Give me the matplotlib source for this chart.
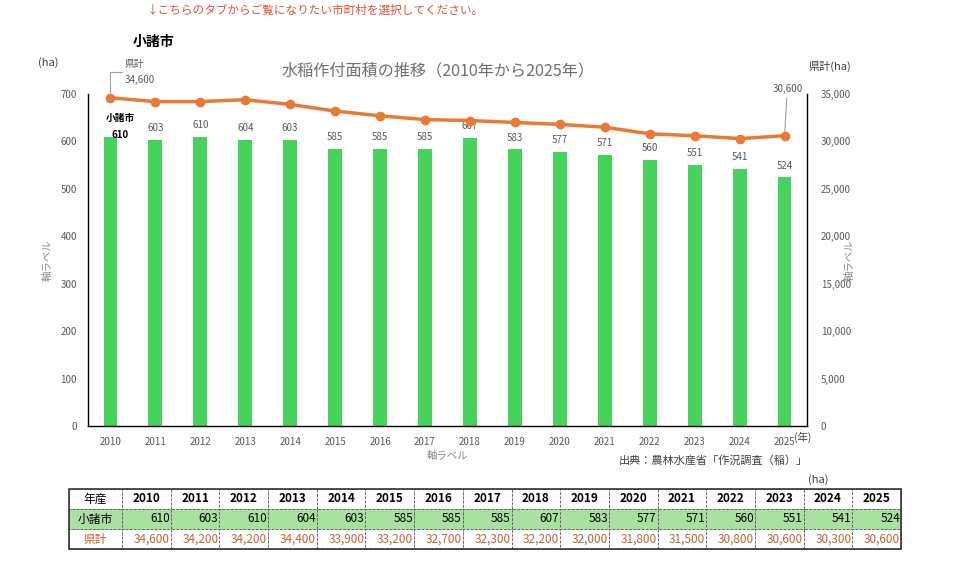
import matplotlib
matplotlib.use("Agg")
import matplotlib.pyplot as plt
import numpy as np

plt.rcParams['font.family'] = ['Noto Sans CJK JP', 'DejaVu Sans']

years = [2010, 2011, 2012, 2013, 2014, 2015, 2016, 2017, 2018, 2019, 2020, 2021, 2022, 2023, 2024, 2025]
city_values = [610, 603, 610, 604, 603, 585, 585, 585, 607, 583, 577, 571, 560, 551, 541, 524]
pref_values = [34600, 34200, 34200, 34400, 33900, 33200, 32700, 32300, 32200, 32000, 31800, 31500, 30800, 30600, 30300, 30600]
city_name = "小諸市"
pref_name = "県計"
title = "水稲作付面積の推移（2010年から2025年）"
notice = "↓こちらのタブからご覧になりたい市町村を選択してください。"
source = "出典：農林水産省「作況調査（稲）」"
left_ticks = [0, 100, 200, 300, 400, 500, 600, 700]
right_ticks = [0, 5000, 10000, 15000, 20000, 25000, 30000, 35000]

GREEN = "#47D35B"
ORANGE = "#E97A35"
GRAY = "#595959"
TABLE_GREEN = "#A9E2A0"
PREF_TXT = "#C0642A"

W, H = 960, 570
fig = plt.figure(figsize=(9.6, 5.7), dpi=100)

def fx(px):
    return px / W

def fy(py):
    return 1 - py / H

ax = fig.add_axes([fx(88), fy(426), fx(807) - fx(88), fy(94) - fy(426)])
x = np.arange(len(years))
ax.bar(x, city_values, width=0.31, color=GREEN, zorder=2)
ax.set_xlim(-0.5, len(years) - 0.5)
ax.set_ylim(0, 700)
ax.set_yticks(left_ticks)
ax.set_xticks(x)
ax.set_xticklabels([str(y) for y in years])
ax.tick_params(axis='both', length=0, labelsize=7, labelcolor=GRAY)
ax.tick_params(axis='x', pad=8)
ax.tick_params(axis='y', pad=8)
for s in ['top', 'right']:
    ax.spines[s].set_visible(False)
for s in ['left', 'bottom']:
    ax.spines[s].set_color('black')
    ax.spines[s].set_linewidth(1.0)

# bar labels
for i, v in enumerate(city_values):
    if i == 0:
        ax.annotate(f"{city_name}\n{v}", (x[i], v), xytext=(7, -2.5), textcoords='offset points',
                    ha='center', va='bottom', multialignment='center', fontsize=7,
                    fontweight='bold', color='black', linespacing=1.9)
    else:
        ax.annotate(f"{v}", (x[i], v), xytext=(0, 5), textcoords='offset points',
                    ha='center', va='bottom', fontsize=7, color=GRAY)

ax2 = ax.twinx()
ax2.plot(x, pref_values, color=ORANGE, linewidth=2.5, marker='o', markersize=6, zorder=3)
ax2.set_ylim(0, 35000)
ax2.set_yticks(right_ticks)
ax2.set_yticklabels([f"{t:,}" for t in right_ticks])
ax2.tick_params(axis='y', length=0, labelsize=7, labelcolor=GRAY, pad=10)
for s in ['top', 'left', 'bottom']:
    ax2.spines[s].set_visible(False)
ax2.spines['right'].set_color('black')
ax2.spines['right'].set_linewidth(1.0)

# line labels with leader lines
ax2.annotate(f"{pref_name}\n{pref_values[0]:,}", (x[0], pref_values[0]), xytext=(10, 9),
             textcoords='offset points', ha='left', va='bottom', fontsize=7, color=GRAY,
             linespacing=1.8,
             arrowprops=dict(arrowstyle='-', color='#A0A0A0', lw=0.8,
                             connectionstyle='angle,angleA=0,angleB=90,rad=0', shrinkA=0, shrinkB=3))
ax2.annotate(f"{pref_values[-1]:,}", (x[-1], pref_values[-1]), xytext=(2, 30),
             textcoords='offset points', ha='center', va='bottom', fontsize=7, color=GRAY,
             arrowprops=dict(arrowstyle='-', color='#A0A0A0', lw=0.8, shrinkA=1, shrinkB=3))

# texts
fig.text(fx(315), fy(10), notice, color="#E0503C", fontsize=8.4, ha='center', va='center')
fig.text(fx(154), fy(42), city_name, color='black', fontsize=10, fontweight='bold', ha='center', va='center')
fig.text(fx(48), fy(63), "(ha)", color='#404040', fontsize=8, ha='center', va='center')
fig.text(fx(438), fy(71), title, color='#707070', fontsize=11.6, ha='center', va='center')
fig.text(fx(830), fy(66), "県計(ha)", color='#404040', fontsize=8, ha='center', va='center')
fig.text(fx(48), fy(260), "軸ラベル", color='#8A8A8A', fontsize=7.5, rotation=90, ha='center', va='center')
fig.text(fx(850), fy(260), "軸ラベル", color='#8A8A8A', fontsize=7.5, rotation=90, ha='center', va='center')
fig.text(fx(447), fy(456), "軸ラベル", color='#8A8A8A', fontsize=7.5, ha='center', va='center')
fig.text(fx(803), fy(437), "(年)", color='#404040', fontsize=7.5, ha='center', va='center')
fig.text(fx(713), fy(460), source, color='#404040', fontsize=8, ha='center', va='center')
fig.text(fx(818), fy(480), "(ha)", color='#404040', fontsize=8, ha='center', va='center')

# table
tx0, tx1, ty0, ty1 = 69, 901, 489, 549
tax = fig.add_axes([fx(tx0), fy(ty1), fx(tx1) - fx(tx0), fy(ty0) - fy(ty1)])
tax.axis('off')
cell_text = [["年産"] + [str(y) for y in years],
             [city_name] + [f"{v:,}" for v in city_values],
             [pref_name] + [f"{v:,}" for v in pref_values]]
total_w = tx1 - tx0
first_w = 53
other_w = (total_w - first_w) / len(years)
col_widths = [first_w / total_w] + [other_w / total_w] * len(years)
tbl = tax.table(cellText=cell_text, colWidths=col_widths, loc='center', bbox=[0, 0, 1, 1])
tbl.auto_set_font_size(False)
for (r, c), cell in tbl.get_celld().items():
    cell.set_linestyle((0, (3, 2)))
    cell.set_linewidth(0.6)
    cell.set_edgecolor('#555555')
    txt = cell.get_text()
    txt.set_fontsize(8.5)
    if r == 0:
        txt.set_ha('center')
        if c > 0:
            txt.set_fontweight('bold')
        cell.set_facecolor('white')
    elif r == 1:
        cell.set_facecolor(TABLE_GREEN)
        txt.set_color('black')
        if c == 0:
            txt.set_ha('center')
        else:
            txt.set_ha('right')
            cell.PAD = 0.02
    else:
        cell.set_facecolor('white')
        txt.set_color(PREF_TXT)
        if c == 0:
            txt.set_ha('center')
        else:
            txt.set_ha('right')
            cell.PAD = 0.02
    if c == 0:
        cell._loc = 'center'
    else:
        cell._loc = 'center' if r == 0 else 'right'
tax.add_patch(plt.Rectangle((0, 0), 1, 1, transform=tax.transAxes, fill=False,
                            edgecolor='#333333', linewidth=1.2, zorder=5, clip_on=False))

fig.savefig("out.png", dpi=100)
